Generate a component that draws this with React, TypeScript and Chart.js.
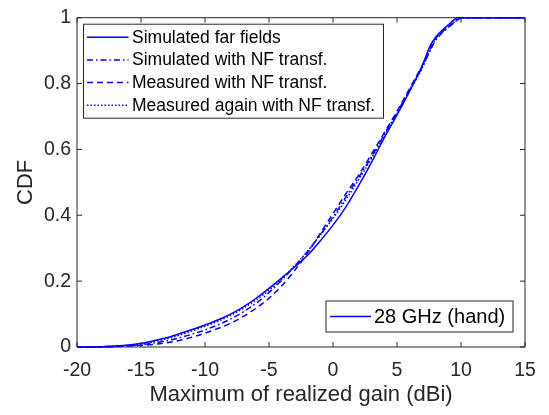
import React, { useEffect, useRef } from 'react';
import { Chart, registerables } from 'chart.js';

Chart.register(...registerables);

// ---- data ----
const gainDbi = [-20, -19, -18, -17, -16, -15, -14, -13, -12, -11, -10, -9, -8, -7, -6, -5, -4, -3, -2, -1, 0, 1, 2, 3, 4, 5, 6, 7, 7.6, 8, 9, 9.8, 10, 15];

const simulatedFarFieldsCdf = [0, 0, 0.001, 0.003, 0.006, 0.011, 0.019, 0.028, 0.04, 0.053, 0.067, 0.082, 0.1, 0.122, 0.148, 0.178, 0.21, 0.243, 0.278, 0.322, 0.37, 0.425, 0.49, 0.56, 0.635, 0.705, 0.778, 0.857, 0.915, 0.94, 0.978, 1, 1, 1];
const simulatedNfCdf = [0, 0, 0.0005, 0.002, 0.004, 0.007, 0.012, 0.019, 0.028, 0.039, 0.052, 0.067, 0.085, 0.107, 0.133, 0.165, 0.203, 0.245, 0.29, 0.34, 0.395, 0.455, 0.515, 0.577, 0.645, 0.712, 0.782, 0.852, 0.9, 0.93, 0.97, 0.995, 1, 1];
const measuredNfCdf = [0, 0, 0, 0.001, 0.003, 0.005, 0.008, 0.013, 0.02, 0.03, 0.042, 0.056, 0.072, 0.093, 0.118, 0.148, 0.186, 0.232, 0.285, 0.345, 0.405, 0.465, 0.522, 0.585, 0.65, 0.716, 0.786, 0.857, 0.905, 0.935, 0.972, 0.995, 1, 1];
const measuredAgainNfCdf = [0, 0, 0.001, 0.002, 0.005, 0.009, 0.016, 0.025, 0.036, 0.049, 0.063, 0.078, 0.096, 0.118, 0.143, 0.172, 0.207, 0.247, 0.29, 0.34, 0.39, 0.447, 0.508, 0.572, 0.64, 0.708, 0.778, 0.85, 0.905, 0.935, 0.972, 0.997, 1, 1];

const seriesLabels = [
  'Simulated far fields',
  'Simulated with NF transf.',
  'Measured with NF transf.',
  'Measured again with NF transf.',
];
const groupLabel = '28 GHz (hand)';

const xTickValues = [-20, -15, -10, -5, 0, 5, 10, 15];
const yTickValues = [0, 0.2, 0.4, 0.6, 0.8, 1];
const xTitle = 'Maximum of realized gain (dBi)';
const yTitle = 'CDF';

// ---- styles ----
const FONT = '"Liberation Sans", Arial, Helvetica, sans-serif';
const TEXT = '#262626';
const BLUE = '#0000ff';
const LW = 1.5;
const dashes: number[][] = [[], [6, 3, 1.5, 3], [6, 4], [1.5, 2]];

export default function App() {
  const ref = useRef<HTMLCanvasElement>(null);

  useEffect(() => {
    if (!ref.current) return;
    const series = [simulatedFarFieldsCdf, simulatedNfCdf, measuredNfCdf, measuredAgainNfCdf];

    const frame = {
      id: 'matlabFrame',
      beforeDatasetsDraw(chart: any) {
        const { ctx, chartArea, scales } = chart;
        const { left, right, top, bottom } = chartArea;
        ctx.save();
        ctx.strokeStyle = TEXT;
        ctx.lineWidth = 1;
        ctx.beginPath();
        ctx.rect(left, top, right - left, bottom - top);
        const tl = 5;
        xTickValues.forEach((v) => {
          const p = scales.x.getPixelForValue(v);
          ctx.moveTo(p, bottom); ctx.lineTo(p, bottom - tl);
          ctx.moveTo(p, top); ctx.lineTo(p, top + tl);
        });
        yTickValues.forEach((v) => {
          const p = scales.y.getPixelForValue(v);
          ctx.moveTo(left, p); ctx.lineTo(left + tl, p);
          ctx.moveTo(right, p); ctx.lineTo(right - tl, p);
        });
        ctx.stroke();
        ctx.restore();
      },
      afterDatasetsDraw(chart: any) {
        const { ctx, chartArea } = chart;
        const { left, right, top, bottom } = chartArea;
        ctx.save();
        ctx.textBaseline = 'middle';
        ctx.textAlign = 'left';

        // legend 1
        ctx.font = `17.5px ${FONT}`;
        const bx = left + 6.5, by = top + 6.5, bw = 300, bh = 94;
        ctx.fillStyle = '#ffffff';
        ctx.fillRect(bx, by, bw, bh);
        ctx.strokeStyle = TEXT;
        ctx.lineWidth = 1;
        ctx.strokeRect(bx, by, bw, bh);
        chart.data.datasets.forEach((ds: any, i: number) => {
          const ry = by + 13 + i * 22.7;
          ctx.strokeStyle = ds.borderColor;
          ctx.lineWidth = ds.borderWidth;
          ctx.setLineDash(ds.borderDash || []);
          ctx.beginPath();
          ctx.moveTo(bx + 3.5, ry);
          ctx.lineTo(bx + 45, ry);
          ctx.stroke();
          ctx.setLineDash([]);
          ctx.fillStyle = '#000000';
          ctx.fillText(ds.label, bx + 48.5, ry + 0.5);
        });

        // legend 2
        ctx.font = `20px ${FONT}`;
        const cw = 187, ch = 31;
        const cx = right - 12 - cw, cy = bottom - 15 - ch;
        ctx.fillStyle = '#ffffff';
        ctx.fillRect(cx, cy, cw, ch);
        ctx.strokeStyle = TEXT;
        ctx.lineWidth = 1;
        ctx.strokeRect(cx, cy, cw, ch);
        const ry2 = cy + ch / 2;
        ctx.strokeStyle = BLUE;
        ctx.lineWidth = LW;
        ctx.beginPath();
        ctx.moveTo(cx + 4, ry2);
        ctx.lineTo(cx + 45, ry2);
        ctx.stroke();
        ctx.fillStyle = '#000000';
        ctx.fillText(groupLabel, cx + 48, ry2 + 0.5);
        ctx.restore();
      },
    };

    const chart = new Chart(ref.current, {
      type: 'line',
      data: {
        datasets: series.map((arr, i) => ({
          label: seriesLabels[i],
          data: gainDbi.map((x, j) => ({ x, y: arr[j] })),
          borderColor: BLUE,
          backgroundColor: BLUE,
          borderWidth: LW,
          borderDash: dashes[i],
          pointRadius: 0,
          cubicInterpolationMode: 'monotone' as const,
          fill: false,
          clip: 4,
        })),
      },
      options: {
        responsive: false,
        animation: false,
        layout: { padding: { top: 15, right: 24, left: 0, bottom: 0 } },
        plugins: { legend: { display: false }, tooltip: { enabled: false } },
        scales: {
          x: {
            type: 'linear',
            min: -20,
            max: 15,
            afterBuildTicks: (s: any) => { s.ticks = xTickValues.map((v) => ({ value: v })); },
            afterFit: (s: any) => { s.height = 68; },
            grid: { display: false, drawTicks: false },
            border: { display: false },
            ticks: {
              color: TEXT,
              font: { family: FONT, size: 19.5 },
              padding: 12,
              maxRotation: 0,
              callback: (v: any) => String(v),
            },
            title: {
              display: true,
              text: xTitle,
              color: TEXT,
              font: { family: FONT, size: 22 },
              padding: { top: 0, bottom: 7 },
            },
          },
          y: {
            type: 'linear',
            min: 0,
            max: 1,
            afterBuildTicks: (s: any) => { s.ticks = yTickValues.map((v) => ({ value: v })); },
            afterFit: (s: any) => { s.width = 77; },
            grid: { display: false, drawTicks: false },
            border: { display: false },
            ticks: {
              color: TEXT,
              font: { family: FONT, size: 19.5 },
              padding: 6,
              callback: (v: any) => String(v),
            },
            title: {
              display: true,
              text: yTitle,
              color: TEXT,
              font: { family: FONT, size: 22 },
              padding: { top: 13, bottom: 0 },
            },
          },
        },
      },
      plugins: [frame],
    } as any);

    return () => chart.destroy();
  }, []);

  return (
    <div style={{ position: 'absolute', left: 0, top: 0, width: 549, height: 415, background: '#ffffff' }}>
      <canvas ref={ref} width={549} height={415} style={{ display: 'block', width: 549, height: 415 }} />
    </div>
  );
}
